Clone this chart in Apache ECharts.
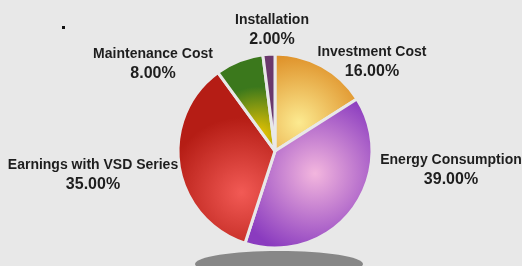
<!DOCTYPE html>
<html>
<head>
<meta charset="utf-8">
<script src="https://cdn.jsdelivr.net/npm/echarts@6/dist/echarts.min.js"></script>
<style>
html,body{margin:0;padding:0;background:#e8e8e8;}
#chart{width:522px;height:266px;}
</style>
</head>
<body>
<div id="chart"></div>
<script>
// slices, clockwise from 12 o'clock
var names = ['Investment Cost', 'Energy Consumption', 'Earnings with VSD Series', 'Maintenance Cost', 'Installation'];
var values = [16, 39, 35, 8, 2];

// gradient colours per slice: [highlight, edge]
var shades = [
	['#fcea90', '#df922a'],
	['#f3b6de', '#8a3bbf'],
	['#f25a55', '#b51d15'],
	['#f6c900', '#3b781c'],
	['#ecbdee', '#6a386c']
];
// where the highlight sits inside each slice (relative to its box)
var glow = [
	[0.3, 0.7, 0.8],
	[0.55, 0.5, 0.65],
	[0.65, 0.7, 0.75],
	[0.7, 0.85, 0.85],
	[0.5, 0.75, 0.8]
];
// label block centres
var labelPos = [[372, 62], [451, 170], [93, 175], [153, 64], [272, 30]];

var chart = echarts.init(document.getElementById('chart'));

var seriesData = [];
for (var i = 0; i < names.length; i++) {
	seriesData.push({
		name: names[i],
		value: values[i],
		itemStyle: {
			color: {
				type: 'radial', x: glow[i][0], y: glow[i][1], r: glow[i][2],
				colorStops: [{offset: 0, color: shades[i][0]}, {offset: 1, color: shades[i][1]}]
			}
		}
	});
}

chart.setOption({
	animation: false,
	backgroundColor: '#e8e8e8',
	graphic: [
		{
			type: 'ellipse', z: -1,
			shape: {cx: 279, cy: 264, rx: 84, ry: 13},
			style: {fill: '#878787'}
		},
		{
			type: 'rect',
			shape: {x: 62, y: 26, width: 3, height: 3},
			style: {fill: '#111'}
		}
	],
	series: [{
		type: 'pie',
		center: [275, 151],
		radius: [0, 97],
		startAngle: 90,
		clockwise: true,
		itemStyle: {borderColor: '#e8e8e8', borderWidth: 3},
		emphasis: {disabled: true},
		labelLine: {show: false},
		label: {
			show: true,
			position: 'outside',
			overflow: 'none',
			formatter: function (p) {
				return '{n|' + p.name + '}\n{v|' + p.value.toFixed(2) + '%}';
			},
			rich: {
				n: {fontFamily: 'Liberation Sans', fontWeight: 'bold', fontSize: 14, color: '#1e1e1e', lineHeight: 19, align: 'center'},
				v: {fontFamily: 'Liberation Sans', fontWeight: 'bold', fontSize: 16, color: '#1e1e1e', lineHeight: 20, align: 'center'}
			}
		},
		labelLayout: function (params) {
			var p = labelPos[params.dataIndex];
			return {x: p[0], y: p[1], align: 'center', verticalAlign: 'middle', width: 200};
		},
		data: seriesData
	}]
});
</script>
</body>
</html>
